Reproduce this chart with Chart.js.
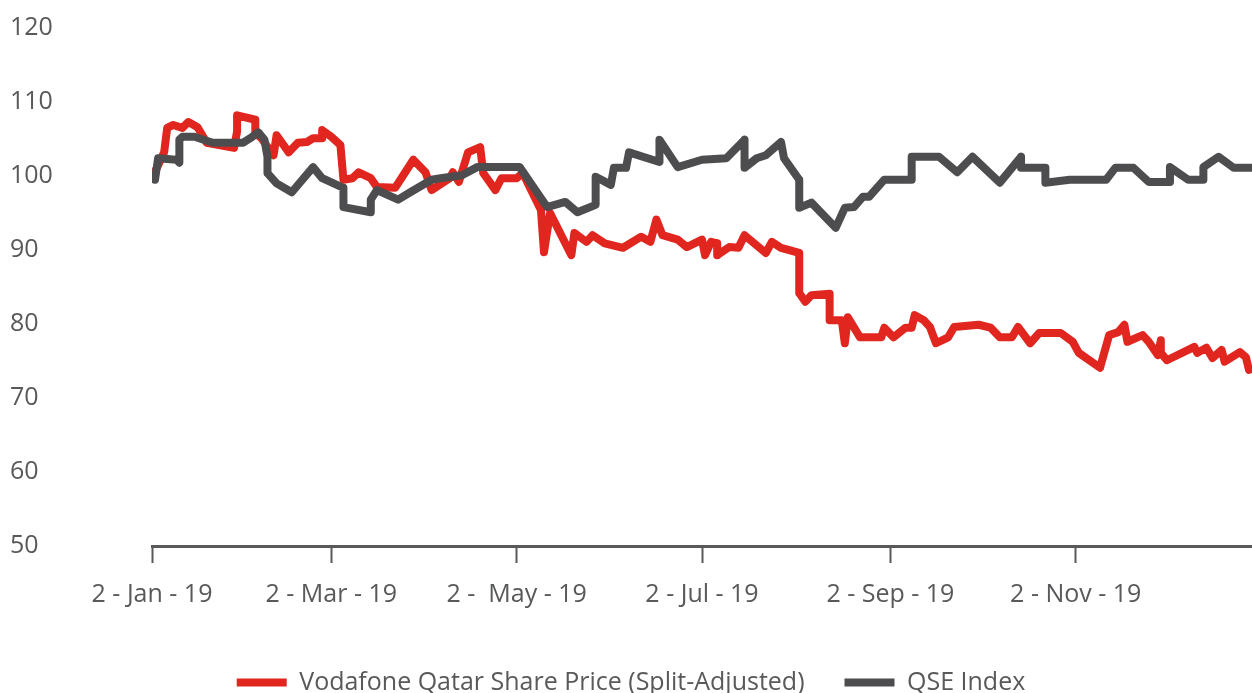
<!DOCTYPE html>
<html>
<head>
<meta charset="utf-8">
<title>Vodafone Qatar vs QSE Index</title>
<script src="https://cdn.jsdelivr.net/npm/chart.js@4/dist/chart.umd.min.js"></script>
<style>
  html, body { margin: 0; padding: 0; background: #fff; overflow: hidden; }
  .wrap { position: relative; width: 1252px; height: 720px; }
</style>
</head>
<body>
<div class="wrap"><canvas id="shareChart"></canvas></div>
<script>
// x values are days counted from 2 Jan 2019
const tickDays = [0, 59, 120, 181, 243, 304];
const tickLabels = ["2 - Jan - 19", "2 - Mar - 19", "2 -  May - 19", "2 - Jul - 19", "2 - Sep - 19", "2 - Nov - 19"];

const vfDays = [0, 4, 5, 7, 10, 12, 15, 18, 27, 28, 28, 34, 34, 36, 40, 41, 45, 48, 51, 53, 56, 56, 59, 62, 63, 66, 68, 72, 74, 80,
  86, 90, 92, 98, 99, 101, 104, 108, 109, 113, 115, 120, 122, 128, 129, 131, 138, 139, 143, 145, 149, 155, 161, 164, 166, 168,
  173, 176, 181, 182, 184, 186, 186, 190, 193, 195, 202, 204, 207, 213, 213, 215, 217, 223, 223, 227, 228, 229, 233, 240, 241,
  244, 248, 250, 251, 254, 256, 258, 262, 264, 272, 276, 279, 283, 285, 289, 292, 299, 303, 305, 312, 315, 318, 320, 321, 326,
  328, 331, 332, 332, 334, 343, 344, 347, 349, 352, 353, 358, 360, 361];
const vfValues = [99.7, 103.2, 106.5, 106.9, 106.5, 107.3, 106.6, 104.5, 103.8, 106.0, 108.2, 107.6, 105.8, 105.1, 102.8, 105.5,
  103.2, 104.5, 104.6, 105.1, 105.1, 106.2, 105.3, 104.2, 99.5, 99.7, 100.5, 99.7, 98.5, 98.4, 102.2, 100.5, 98.1, 99.7, 100.5,
  99.2, 103.2, 103.9, 100.4, 98.1, 99.7, 99.7, 100.4, 95.4, 89.7, 95.0, 89.3, 92.3, 91.1, 92.0, 90.9, 90.3, 91.8, 91.1, 94.1,
  92.0, 91.4, 90.4, 91.4, 89.3, 91.1, 90.9, 89.3, 90.4, 90.3, 92.0, 89.6, 91.1, 90.3, 89.6, 84.2, 83.0, 83.9, 84.1, 80.5, 80.5,
  77.4, 80.9, 78.2, 78.2, 79.5, 78.2, 79.5, 79.5, 81.2, 80.5, 79.6, 77.4, 78.2, 79.6, 79.9, 79.5, 78.2, 78.2, 79.6, 77.4, 78.8,
  78.8, 77.6, 76.1, 74.1, 78.5, 78.9, 79.9, 77.6, 78.5, 77.6, 75.8, 77.8, 76.1, 75.1, 76.9, 76.1, 76.8, 75.4, 76.5, 74.9, 76.2,
  75.5, 73.8];

const qseDays = [1, 2, 8, 9, 9, 10, 14, 20, 30, 33, 35, 37, 38, 38, 41, 46, 53, 56, 63, 63, 72, 72, 74, 81, 85, 92, 95, 102, 107,
  121, 130, 136, 140, 146, 146, 151, 152, 156, 157, 167, 167, 173, 181, 189, 195, 195, 199, 202, 207, 208, 213, 213, 217, 225,
  228, 231, 234, 236, 241, 250, 250, 259, 265, 270, 279, 283, 286, 286, 294, 294, 302, 314, 317, 323, 328, 335, 335, 341, 346,
  346, 351, 356, 362];
const qseValues = [99.5, 102.4, 102.2, 101.8, 104.9, 105.3, 105.3, 104.5, 104.5, 105.3, 105.9, 104.9, 102.6, 100.4, 99.0, 97.8,
  101.2, 99.7, 98.4, 95.8, 95.1, 96.8, 98.1, 96.8, 97.8, 99.5, 99.7, 100.1, 101.2, 101.2, 95.8, 96.5, 95.1, 96.1, 99.9, 98.8,
  101.1, 101.1, 103.2, 101.9, 104.9, 101.2, 102.2, 102.4, 104.9, 101.1, 102.4, 102.8, 104.6, 102.4, 99.5, 95.7, 96.4, 93.0,
  95.7, 95.8, 97.2, 97.2, 99.5, 99.5, 102.6, 102.6, 100.5, 102.6, 99.1, 101.1, 102.6, 101.1, 101.1, 99.1, 99.5, 99.5, 101.1,
  101.1, 99.2, 99.2, 101.2, 99.5, 99.5, 101.2, 102.6, 101.1, 101.1];

const textColor = "#58595b";
const redColor = "#e1261f";
const greyColor = "#4d4d4f";

function toPoints(days, values) {
  return days.map((d, i) => ({ x: d, y: values[i] }));
}

const ctx = document.getElementById("shareChart").getContext("2d");
const shareChart = new Chart(ctx, {
  type: "line",
  data: {
    datasets: [
      {
        label: "Vodafone Qatar Share Price (Split-Adjusted)",
        data: toPoints(vfDays, vfValues),
        borderColor: redColor,
        backgroundColor: redColor,
        borderWidth: 8,
        borderCapStyle: "round",
        borderJoinStyle: "round",
        pointRadius: 0,
        tension: 0,
        order: 1,
      },
      {
        label: "QSE Index",
        data: toPoints(qseDays, qseValues),
        borderColor: greyColor,
        backgroundColor: greyColor,
        borderWidth: 8,
        borderCapStyle: "round",
        borderJoinStyle: "round",
        pointRadius: 0,
        tension: 0,
        order: 0,
      },
    ],
  },
  options: {
    responsive: true,
    maintainAspectRatio: false,
    animation: false,
    events: [],
    layout: {
      padding: { left: 10, right: 0, top: 28, bottom: 15 },
    },
    plugins: {
      tooltip: { enabled: false },
      legend: {
        position: "bottom",
        labels: {
          usePointStyle: true,
          pointStyle: "line",
          pointStyleWidth: 50,
          boxHeight: 25,
          padding: 40,
          color: textColor,
          font: { family: "'Open Sans', sans-serif", size: 25 },
          sort: (a, b) => a.datasetIndex - b.datasetIndex,
        },
      },
    },
    scales: {
      x: {
        type: "linear",
        min: 0,
        max: 362,
        afterBuildTicks: (scale) => {
          scale.ticks = tickDays.map((v) => ({ value: v }));
        },
        afterFit: (scale) => {
          scale.height = 84;
        },
        grid: {
          display: true,
          drawOnChartArea: false,
          drawTicks: true,
          tickLength: 17,
          tickWidth: 2,
          tickColor: textColor,
        },
        border: { display: true, color: textColor, width: 3 },
        ticks: {
          autoSkip: false,
          maxRotation: 0,
          padding: 17,
          color: textColor,
          font: { family: "'Open Sans', sans-serif", size: 25 },
          callback: (value) => tickLabels[tickDays.indexOf(value)],
        },
      },
      y: {
        min: 50,
        max: 120,
        afterFit: (scale) => {
          scale.width = 142;
        },
        grid: { display: false },
        border: { display: false },
        ticks: {
          stepSize: 10,
          crossAlign: "far",
          color: textColor,
          font: { family: "'Open Sans', sans-serif", size: 25 },
        },
      },
    },
  },
});
</script>
</body>
</html>
